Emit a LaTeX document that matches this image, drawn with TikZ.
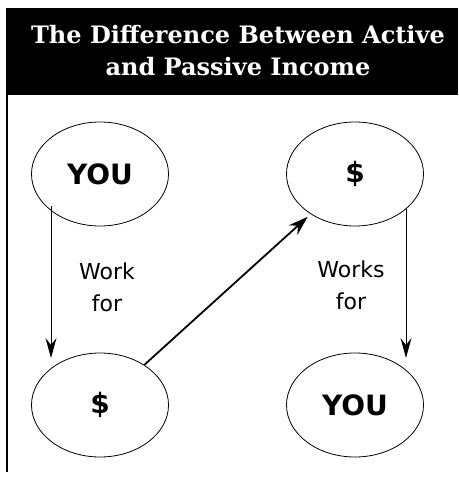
\documentclass[tikz,border=0pt]{standalone}
\usepackage{fontspec}
\setmainfont{DejaVu Sans}
\newfontfamily\titlefont{DejaVu Serif}
\usetikzlibrary{shapes.geometric,arrows.meta,calc}
\begin{document}
\begin{tikzpicture}[x=1pt,y=-1pt,
  bubble/.style={ellipse,draw,line width=0.8pt,minimum width=137pt,minimum height=104pt,inner sep=0pt},
  bigtext/.style={font=\fontsize{28}{30}\selectfont\bfseries},
  lbl/.style={font=\fontsize{22}{32}\selectfont,align=center},
  conn/.style={line width=1pt,-{Stealth[length=20pt,width=11pt,inset=7pt]}},
  diag/.style={line width=1.8pt,-{Stealth[length=20pt,width=13pt,inset=7pt]},shorten >=4pt}]
\useasboundingbox (0,0) rectangle (458,478);
\fill[black] (6,8) rectangle (458,95);
\node[font=\titlefont\fontsize{24}{32}\selectfont\bfseries,text=white,align=center] (title) at (238,51) {The Difference Between Active\\and Passive Income};
\draw[line width=1.4pt] (7,95) -- (7,472);
\node[bubble,bigtext] (you1) at (100,174) {YOU};
\node[bubble,bigtext] (tr) at (355,174) {\$};
\node[bubble,bigtext] (bl) at (100,405) {\$};
\node[bubble,bigtext] (you2) at (355,405) {YOU};
\node[lbl] (work) at (107,287) {Work\\for};
\node[lbl] (works) at (351,285) {Works\\for};
\coordinate (a1s) at ($(you1.center)+(-49,32)$);
\coordinate (a1e) at ($(bl.center)+(-49,-47)$);
\coordinate (a2s) at ($(tr.center)+(51,35)$);
\coordinate (a2e) at ($(you2.center)+(51,-47)$);
\draw[conn] (a1s) -- (a1e);
\draw[conn] (a2s) -- (a2e);
\draw[diag] (bl) -- (tr);
\end{tikzpicture}
\end{document}
